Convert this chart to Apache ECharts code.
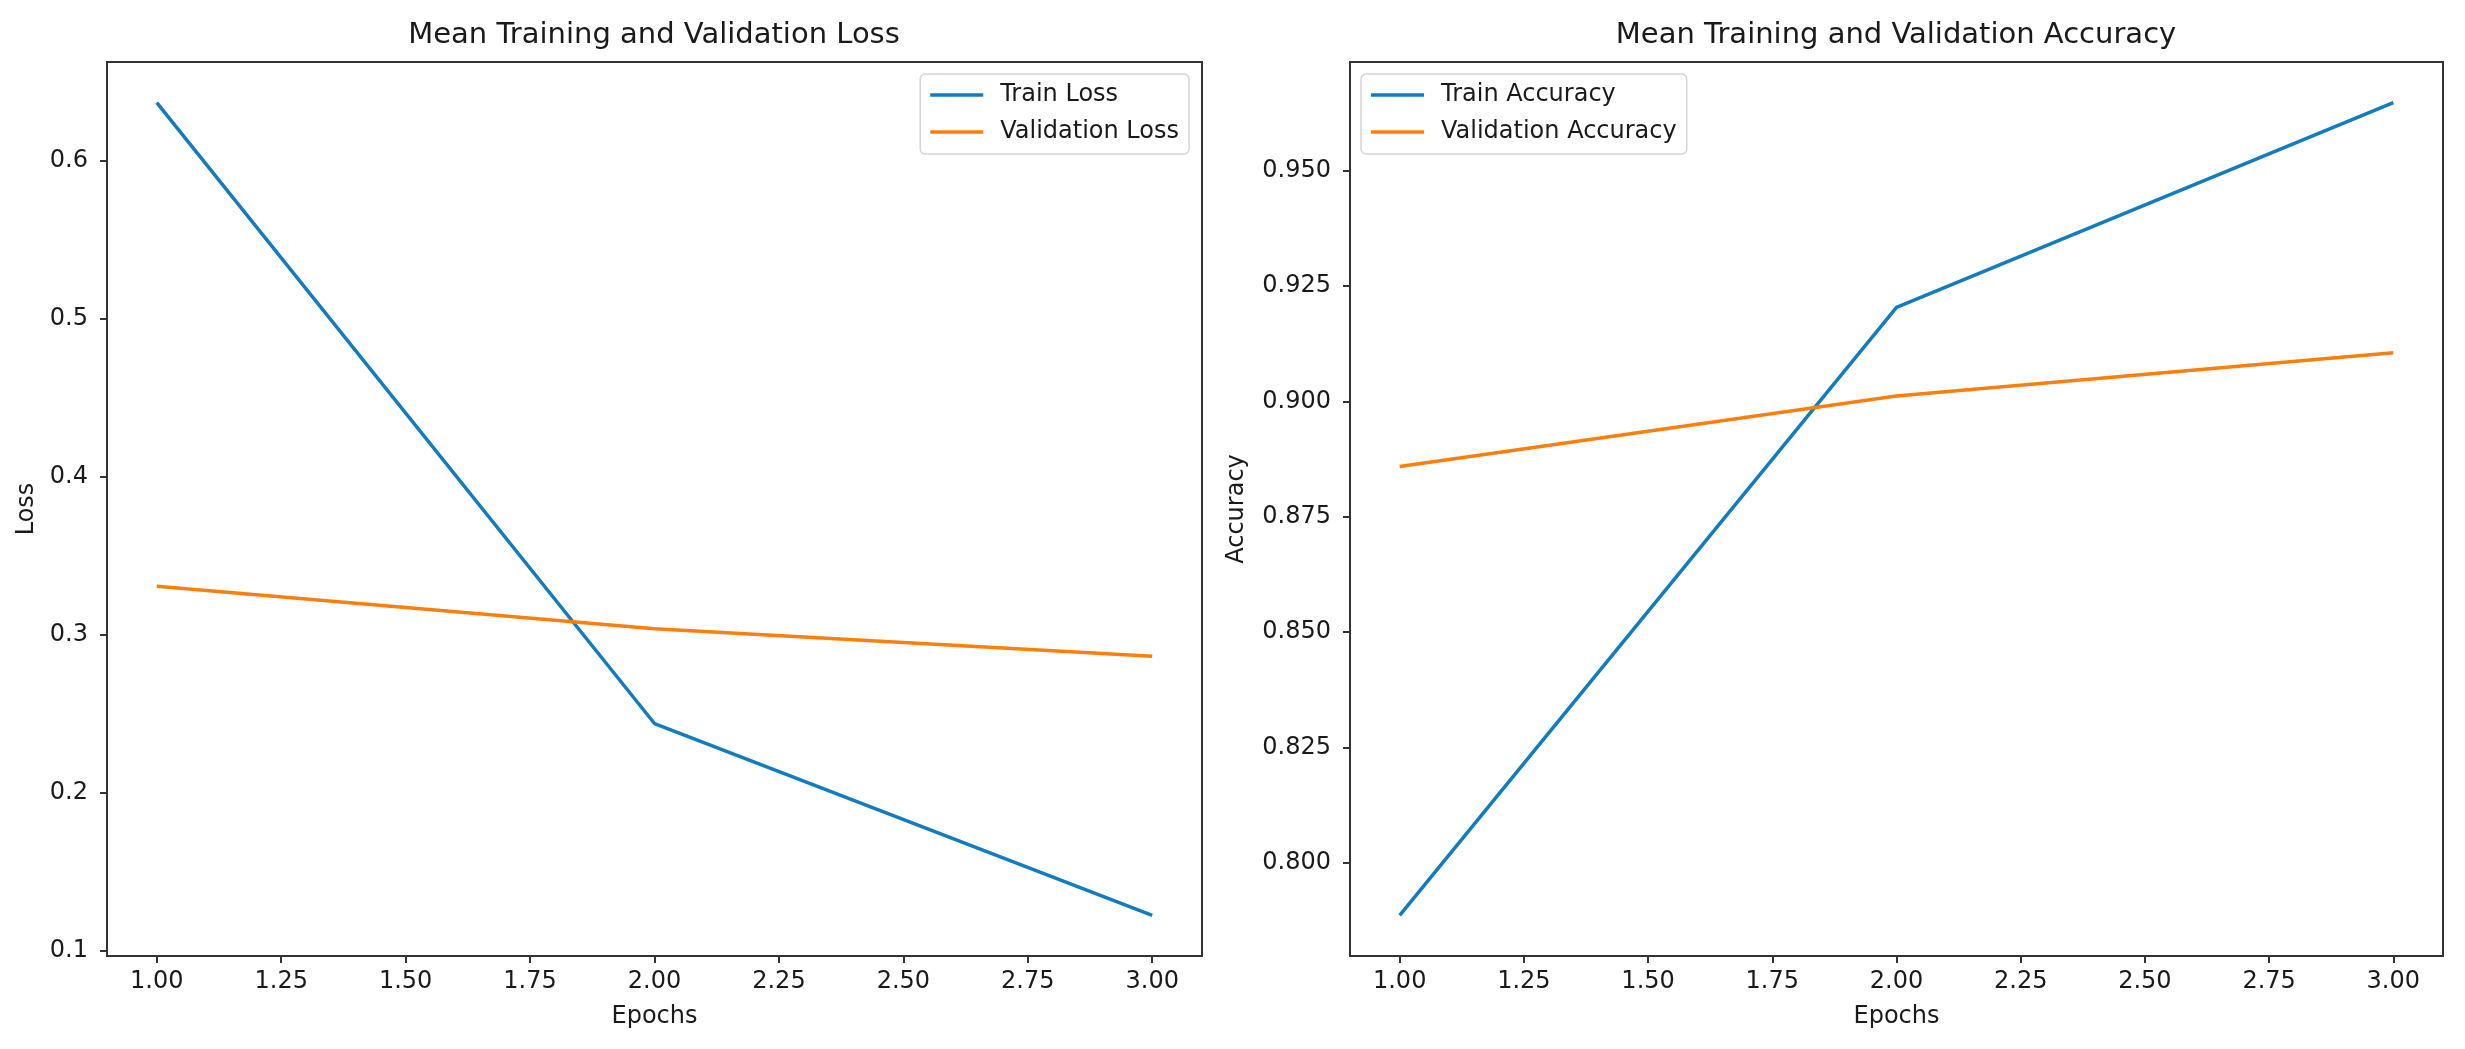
<!DOCTYPE html>
<html>
<head>
	<meta charset="utf-8">
	<title>Mean Training and Validation</title>
	<script src="https://cdn.jsdelivr.net/npm/echarts@6/dist/echarts.min.js"></script>
	<style>
		html, body { margin: 0; padding: 0; background: #fff; }
		#main { width: 2465px; height: 1049px; }
	</style>
</head>
<body>
<div id="main"></div>
<script>
	// values
	var epochs = [1, 2, 3];
	var trainLoss = [0.6365, 0.2436, 0.1222];
	var valLoss = [0.3305, 0.3036, 0.2862];
	var trainAcc = [0.7886, 0.9204, 0.9648];
	var valAcc = [0.8859, 0.9012, 0.9106];

	var epochTicks = [1.00, 1.25, 1.50, 1.75, 2.00, 2.25, 2.50, 2.75, 3.00];
	var lossTicks = [0.1, 0.2, 0.3, 0.4, 0.5, 0.6];
	var accTicks = [0.800, 0.825, 0.850, 0.875, 0.900, 0.925, 0.950];

	var BLUE = '#127cbf', ORANGE = '#ff7f0e';
	var FONT = 'DejaVu Sans';
	var INK = '#1a1a1a', SPINE = '#333';

	function pairs(xs, ys) {
		return xs.map(function (x, i) { return [x, ys[i]]; });
	}
	// matplotlib style 5% margins
	function padRange(arrs) {
		var all = [].concat.apply([], arrs);
		var lo = Math.min.apply(null, all), hi = Math.max.apply(null, all);
		var m = (hi - lo) * 0.05;
		return [lo - m, hi + m];
	}
	var xr = padRange([epochs]);
	var lr = padRange([trainLoss, valLoss]);
	var ar = padRange([trainAcc, valAcc]);

	function xAxis(idx) {
		return {
			type: 'value', gridIndex: idx, min: xr[0], max: xr[1],
			name: 'Epochs', nameLocation: 'middle', nameGap: 49,
			nameTextStyle: { fontFamily: FONT, fontSize: 24, color: INK },
			splitLine: { show: false },
			axisLine: { show: true, lineStyle: { color: SPINE, width: 2 } },
			axisTick: { show: true, length: 7, lineStyle: { color: SPINE, width: 2 }, customValues: epochTicks },
			axisLabel: {
				customValues: epochTicks, margin: 14,
				fontFamily: FONT, fontSize: 24, color: INK,
				formatter: function (v) { return v.toFixed(2); }
			}
		};
	}
	function yAxis(idx, r, ticks, name, digits, gap) {
		return {
			type: 'value', gridIndex: idx, min: r[0], max: r[1],
			name: name, nameLocation: 'middle', nameGap: gap,
			nameTextStyle: { fontFamily: FONT, fontSize: 24, color: INK },
			splitLine: { show: false },
			axisLine: { show: true, lineStyle: { color: SPINE, width: 2 } },
			axisTick: { show: true, length: 7, lineStyle: { color: SPINE, width: 2 }, customValues: ticks },
			axisLabel: {
				customValues: ticks, margin: 19,
				fontFamily: FONT, fontSize: 24, color: INK,
				formatter: function (v) { return v.toFixed(digits); }
			}
		};
	}
	function legend(names, pos) {
		var l = {
			orient: 'vertical', top: 74, data: names,
			icon: 'rect', itemWidth: 53, itemHeight: 3.5, itemGap: 13,
			padding: [9, 10, 10, 10],
			backgroundColor: 'rgba(255,255,255,0.8)',
			borderColor: '#d4d4d4', borderWidth: 1.5, borderRadius: 5,
			textStyle: { fontFamily: FONT, fontSize: 24, color: INK, padding: [0, 0, 0, 12] }
		};
		for (var k in pos) l[k] = pos[k];
		return l;
	}
	function line(name, idx, ys, color) {
		return {
			name: name, type: 'line', xAxisIndex: idx, yAxisIndex: idx,
			data: pairs(epochs, ys), showSymbol: false, symbol: 'none',
			color: color, lineStyle: { color: color, width: 3.5 },
			animation: false
		};
	}

	var chart = echarts.init(document.getElementById('main'));
	var option = {
		backgroundColor: '#fff',
		animation: false,
		title: [
			{ text: 'Mean Training and Validation Loss', left: 654, top: 21, textAlign: 'center', padding: 0,
				textStyle: { fontFamily: FONT, fontSize: 29, fontWeight: 'normal', color: INK } },
			{ text: 'Mean Training and Validation Accuracy', left: 1896, top: 21, textAlign: 'center', padding: 0,
				textStyle: { fontFamily: FONT, fontSize: 29, fontWeight: 'normal', color: INK } }
		],
		grid: [
			{ left: 107, right: 1263, top: 62, bottom: 93, show: true, borderColor: SPINE, borderWidth: 2, containLabel: false },
			{ left: 1350, right: 22, top: 62, bottom: 93, show: true, borderColor: SPINE, borderWidth: 2, containLabel: false }
		],
		xAxis: [xAxis(0), xAxis(1)],
		yAxis: [
			yAxis(0, lr, lossTicks, 'Loss', 1, 68),
			yAxis(1, ar, accTicks, 'Accuracy', 3, 101)
		],
		legend: [
			legend(['Train Loss', 'Validation Loss'], { right: 1276 }),
			legend(['Train Accuracy', 'Validation Accuracy'], { left: 1361 })
		],
		series: [
			line('Train Loss', 0, trainLoss, BLUE),
			line('Validation Loss', 0, valLoss, ORANGE),
			line('Train Accuracy', 1, trainAcc, BLUE),
			line('Validation Accuracy', 1, valAcc, ORANGE)
		]
	};
	chart.setOption(option);
</script>
</body>
</html>
